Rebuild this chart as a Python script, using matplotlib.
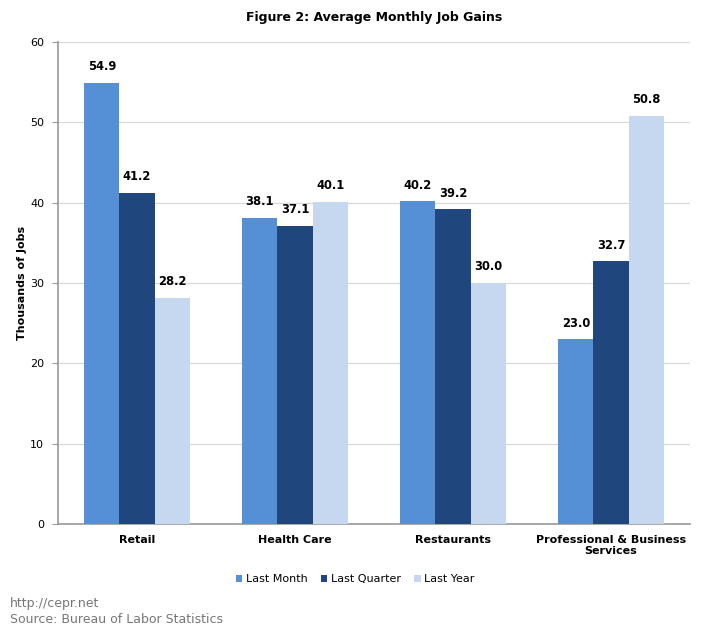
import numpy as np
import matplotlib
matplotlib.use("Agg")
import matplotlib.pyplot as plt

categories = ["Retail", "Health Care", "Restaurants", "Professional & Business\nServices"]
series_names = ["Last Month", "Last Quarter", "Last Year"]
last_month = [54.9, 38.1, 40.2, 23.0]
last_quarter = [41.2, 37.1, 39.2, 32.7]
last_year = [28.2, 40.1, 30.0, 50.8]
colors = ["#5590D6", "#1F477D", "#C5D8F0"]

plt.rcParams['font.family'] = ['DejaVu Sans']

fig = plt.figure(figsize=(7.03, 6.29), dpi=100)
ax = fig.add_axes([0.0825, 0.167, 0.899, 0.766])

x = np.arange(len(categories))
w = 0.222
for i, (vals, name) in enumerate(zip([last_month, last_quarter, last_year], series_names)):
    pos = x + (i - 1) * w
    ax.bar(pos, vals, width=w, color=colors[i], label=name, zorder=3)
    for p, v in zip(pos, vals):
        ax.text(p, v + 1.2, f"{v:.1f}", ha="center", va="bottom",
                fontsize=8.3, fontweight="bold", color="#000000")

ax.set_xlim(-0.5, len(categories) - 0.5)
ax.set_ylim(0, 60)
ax.set_yticks(range(0, 61, 10))
ax.tick_params(axis="y", labelsize=8, length=4, color="#999999", pad=6)
ax.set_xticks(x)
ax.set_xticklabels(categories, fontsize=8, fontweight="bold", linespacing=1.1)
ax.tick_params(axis="x", length=0, pad=8)
ax.grid(axis="y", color="#D9D9D9", linewidth=0.9, zorder=0)
for s in ["top", "right"]:
    ax.spines[s].set_visible(False)
for s in ["left", "bottom"]:
    ax.spines[s].set_color("#999999")
    ax.spines[s].set_linewidth(1.2)

ax.set_ylabel("Thousands of Jobs", fontsize=8, fontweight="bold", labelpad=2)
ax.set_title("Figure 2: Average Monthly Job Gains", fontsize=9, fontweight="bold", pad=15)

ax.legend(loc="upper center", bbox_to_anchor=(0.47, -0.084), ncol=3, frameon=False,
          fontsize=8, handlelength=0.6, handleheight=0.6, handletextpad=0.3, columnspacing=1.2)

fig.text(0.014, 0.035, "http://cepr.net", fontsize=9, color="#777777")
fig.text(0.014, 0.010, "Source: Bureau of Labor Statistics", fontsize=9, color="#777777")

fig.savefig("out.png", dpi=100)
